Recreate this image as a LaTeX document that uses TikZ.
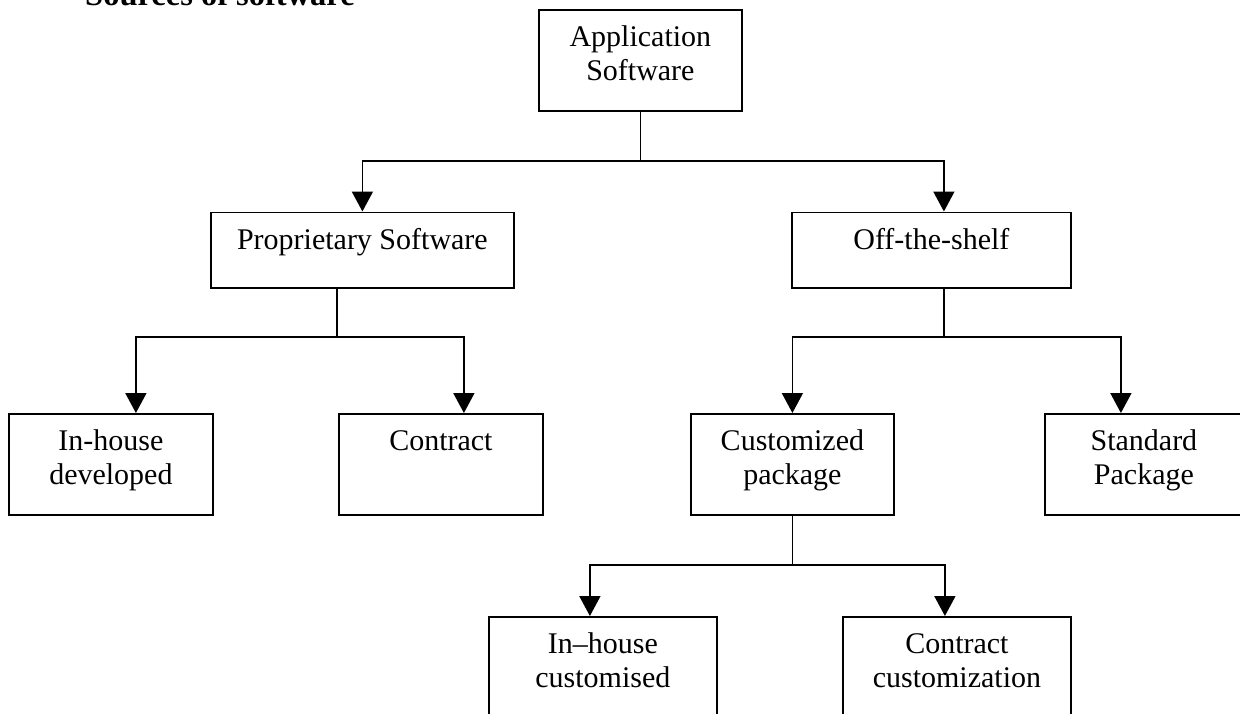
\documentclass[tikz,border=0pt]{standalone}
\usepackage{fontspec}
\setmainfont{Liberation Serif}
\usetikzlibrary{arrows.meta}
\newcommand\boxtext[3]{\parbox[c][#2][t]{#1}{\centering\rule{0pt}{37pt}#3}}
\begin{document}
\begin{tikzpicture}[x=1pt,y=-1pt,
  box/.style={draw, line width=1.8pt, rectangle, inner sep=0pt, anchor=north west,
              font=\fontsize{30}{34}\selectfont},
  conn/.style={line width=1.8pt},
  arr/.style={conn, -{Triangle[length=20pt,width=21pt]}}]
\useasboundingbox (0,0) rectangle (1240,713);
\clip (0,0) rectangle (1240,713);

\node[anchor=base west, inner sep=0pt, font=\fontsize{32.5}{36}\selectfont\bfseries] (title) at (85,5) {Sources of software};

\node[box] (app) at (538,9) {\boxtext{203pt}{101pt}{Application\\Software}};
\node[box] (prop) at (210,211.5) {\boxtext{303pt}{75.5pt}{Proprietary Software}};
\node[box] (off) at (791,211.5) {\boxtext{279pt}{75.5pt}{Off-the-shelf}};
\node[box] (ihd) at (8,413) {\boxtext{204pt}{101pt}{In-house\\developed}};
\node[box] (con) at (338,413) {\boxtext{204pt}{101pt}{Contract}};
\node[box] (cus) at (690,413) {\boxtext{203pt}{101pt}{Customized\\package}};
\node[box] (std) at (1044,413) {\boxtext{198pt}{101pt}{Standard\\Package}};
\node[box] (ihc) at (488,616) {\boxtext{228pt}{101pt}{In--house\\customised}};
\node[box] (cc) at (842,616) {\boxtext{228pt}{101pt}{Contract\\customization}};

% level 1
\coordinate (s1) at (app.south);
\coordinate (j1) at (s1 |- 0,161);
\draw[conn] (s1) -- (j1);
\draw[arr] (j1) -| (prop.north);
\draw[arr] (j1) -| ([xshift=12.5pt]off.north);

% proprietary
\coordinate (s2) at ([xshift=-25.5pt]prop.south);
\coordinate (j2) at (s2 |- 0,337);
\draw[conn] (s2) -- (j2);
\draw[arr] (j2) -| ([xshift=25pt]ihd.north);
\draw[arr] (j2) -| ([xshift=23pt]con.north);

% off-the-shelf
\coordinate (s3) at ([xshift=12.5pt]off.south);
\coordinate (j3) at (s3 |- 0,337);
\draw[conn] (s3) -- (j3);
\draw[arr] (j3) -| (cus.north);
\draw[arr] (j3) -| ([xshift=-23pt]std.north);

% customized package
\coordinate (s4) at (cus.south);
\coordinate (j4) at (s4 |- 0,565);
\draw[conn] (s4) -- (j4);
\draw[arr] (j4) -| ([xshift=-13pt]ihc.north);
\draw[arr] (j4) -| ([xshift=-12pt]cc.north);
\end{tikzpicture}
\end{document}
